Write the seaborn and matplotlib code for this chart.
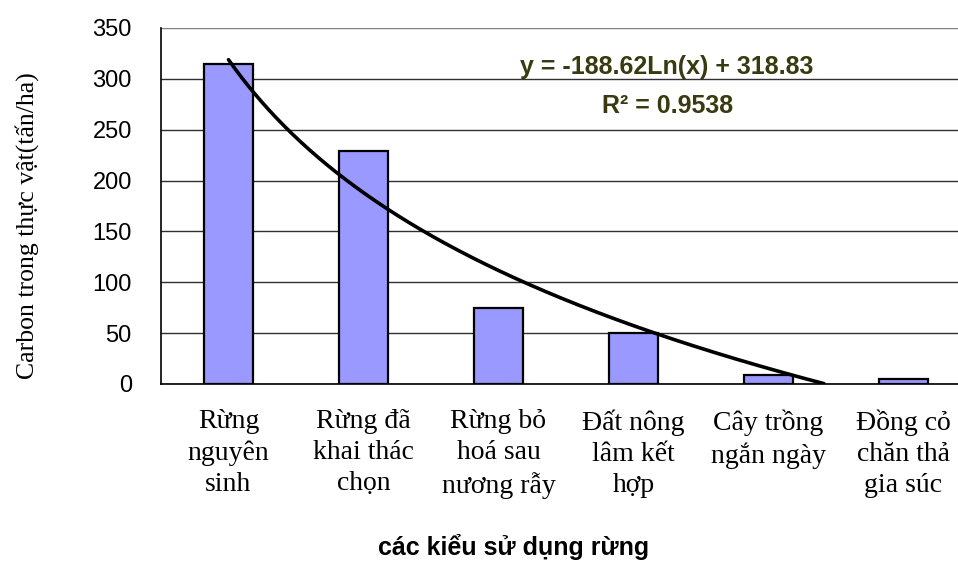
import numpy as np
import pandas as pd
import matplotlib
matplotlib.use("Agg")
import matplotlib.pyplot as plt
import seaborn as sns

# Carbon stored in vegetation by land-use type
categories = [
    "Rừng\nnguyên\nsinh",
    "Rừng đã\nkhai thác\nchọn",
    "Rừng bỏ\nhoá sau\nnương rẫy",
    "Đất nông\nlâm kết\nhợp",
    "Cây trồng\nngắn ngày",
    "Đồng cỏ\nchăn thả\ngia súc",
]
carbon = [315, 229, 75, 50, 9, 5]

# Logarithmic trend fitted to the series
trend_slope = -188.62
trend_intercept = 318.83
trend_r2 = 0.9538

yticks = [0, 50, 100, 150, 200, 250, 300, 350]

sns.set_theme(style="white")
plt.rcParams["font.family"] = ["Liberation Sans", "DejaVu Sans"]
plt.rcParams.update({"text.color": "black", "axes.labelcolor": "black",
                     "xtick.color": "black", "ytick.color": "black"})

W, H = 958, 563
fig = plt.figure(figsize=(W / 100, H / 100), dpi=100)
left, right, top, bottom = 161, 971, 28, 384
ax = fig.add_axes([left / W, 1 - bottom / H, (right - left) / W, (bottom - top) / H])

df = pd.DataFrame({"category": categories, "carbon": carbon})
sns.barplot(data=df, x="category", y="carbon", ax=ax, color="#9999FF",
            saturation=1, width=0.36, edgecolor="black", linewidth=1.6, zorder=3)

# Trend curve over x = 1..n, kept where it stays above zero
xs = np.linspace(1, len(carbon), 400)
ys = trend_slope * np.log(xs) + trend_intercept
keep = ys >= 0
sns.lineplot(x=xs[keep] - 1, y=ys[keep], ax=ax, color="black", linewidth=2.6,
             zorder=4, sort=False)

ax.set_xlim(-0.5, len(categories) - 0.5)
ax.set_ylim(0, 350)
ax.set_yticks(yticks)
ax.set_yticklabels([str(v) for v in yticks], fontsize=17)
for v in yticks:
    ax.axhline(v, color="#808080" if v == 350 else "#303030", linewidth=1, zorder=1)

# Category separators as outward ticks
ax.set_xticks(np.arange(len(categories) + 1) - 0.5, minor=True)
ax.set_xticks(np.arange(len(categories)))
ax.set_xticklabels(categories, fontsize=20, family=["Liberation Serif"], linespacing=1.32)
ax.tick_params(axis="x", which="major", length=0, pad=18)
ax.tick_params(axis="x", which="minor", length=8, width=1, color="black", direction="out")
ax.tick_params(axis="y", length=9, width=1, color="black", direction="out", pad=12)

for s in ["top", "right"]:
    ax.spines[s].set_visible(False)
for s in ["left", "bottom"]:
    ax.spines[s].set_color("black")
    ax.spines[s].set_linewidth(1.2)

ax.set_xlabel("")
ax.set_ylabel("")
fig.text(27 / W, 1 - 226 / H, "Carbon trong thực vật(tấn/ha)", rotation=90,
         ha="center", va="center", fontsize=18.5, family=["Liberation Serif"])

fig.text(514 / W, 1 - 555 / H, "các kiểu sử dụng rừng", ha="center", va="baseline",
         fontsize=18, fontweight="bold")

eq_color = "#3A3A10"
fig.text(667 / W, 1 - 67 / H, f"y = {trend_slope:.2f}Ln(x) + {trend_intercept:.2f}",
         ha="center", va="center", fontsize=18, fontweight="bold", color=eq_color)
fig.text(668 / W, 1 - 106 / H, f"R² = {trend_r2:.4f}",
         ha="center", va="center", fontsize=18, fontweight="bold", color=eq_color)

fig.savefig("out.png", dpi=100)
